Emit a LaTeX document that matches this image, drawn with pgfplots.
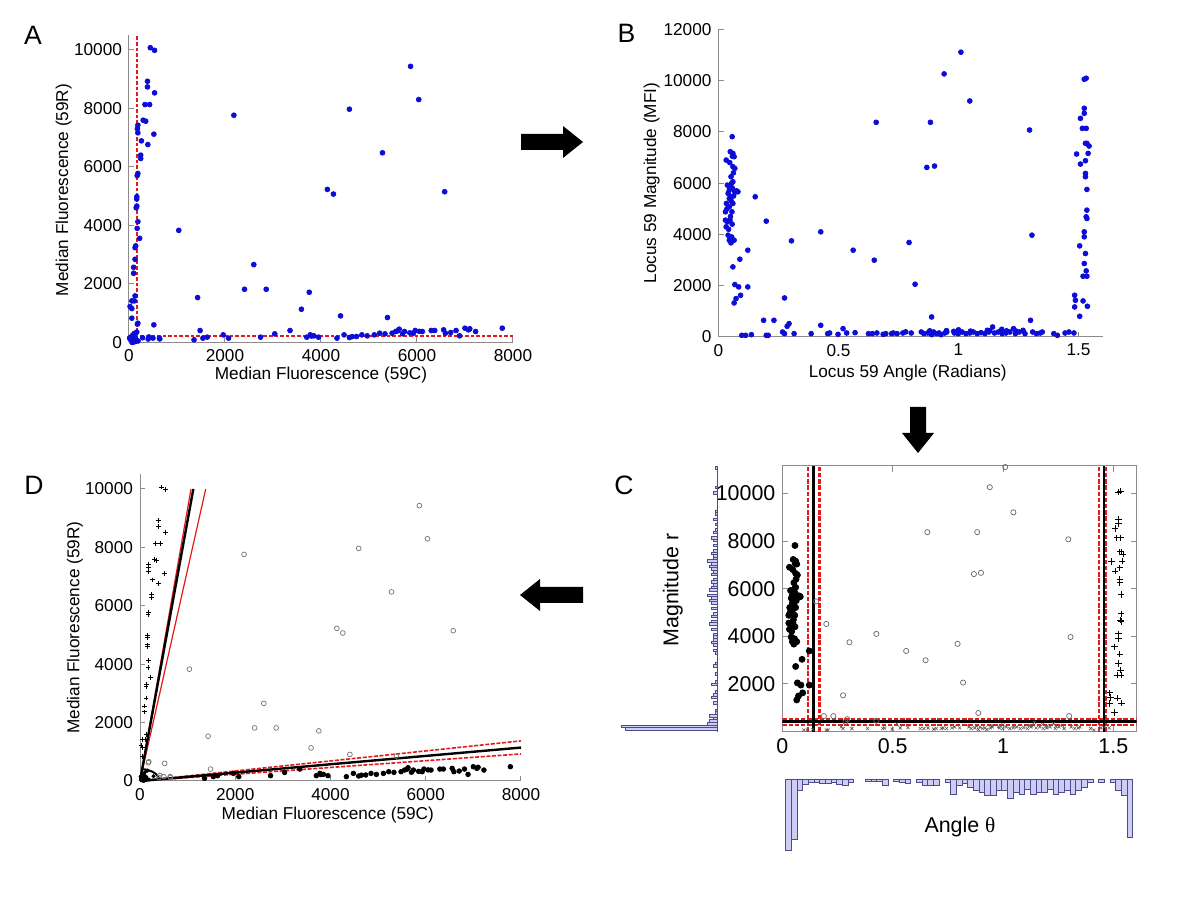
\documentclass[border=0pt]{standalone}
\usepackage{fontspec}
\setmainfont{Liberation Sans}
\newfontfamily\serifgreek{Liberation Serif}
\usepackage{pgfplots}
\usepackage{pgfplotstable}
\pgfplotsset{compat=1.18}
\definecolor{mblue}{rgb}{0.05,0.05,0.85}
\definecolor{mred}{rgb}{0.9,0.1,0.1}
\definecolor{histfill}{rgb}{0.80,0.80,0.96}
\definecolor{histedge}{rgb}{0.30,0.30,0.55}
\definecolor{axgray}{gray}{0.55}

% ---------------- cartesian data (59C, 59R) ----------------
\pgfplotstableread{
C R
444 10065
533 9977
385 8920
385 8727
533 8523
333 8125
430 8125
296 7590
348 7557
185 7420
185 7160
518 7114
259 6885
393 6760
244 6397
244 6284
185 5770
163 4977
163 4659
185 4125
170 3898
222 3557
126 3239
126 2841
96 2568
96 2364
126 1591
59 1420
111 1420
22 1227
59 1159
59 830
175 7300
170 5700
150 4600
160 4900
140 3300
}\cartV
\pgfplotstableread{
C R
1037 3829
1430 1534
1481 409
2185 7760
2407 1818
2600 2659
2859 1818
3592 1136
3755 1716
4133 5227
4259 5068
4407 909
4592 7966
5281 6477
5385 852
5866 9430
6037 8295
6577 5148
185 659
518 602
640 122
634 149
499 151
415 188
174 627
400 118
}\cartM
\pgfplotstableread{
C R
1355 91
1540 148
1630 182
1963 261
2074 148
2741 182
3037 295
3355 409
3703 182
3777 261
3851 227
3948 182
4333 148
4481 261
4592 170
4740 205
4851 261
4963 227
5111 261
5222 318
5333 295
5481 318
5555 375
5629 454
5740 375
5925 318
5962 409
6111 375
6296 409
6370 409
6555 432
6592 318
6703 341
6814 409
6888 227
6999 489
7073 432
7222 375
7777 489
3800 220
5600 400
5700 300
6050 380
7100 470
4650 200
5850 330
}\cartH
\pgfplotstableread{
C R
65 6
90 12
64 13
188 51
125 35
124 40
120 49
117 57
91 50
283 162
134 80
142 91
105 76
123 96
80 66
98 86
96 88
112 108
108 112
129 146
100 119
122 152
95 124
91 127
86 130
103 166
78 135
61 115
58 116
162 356
77 179
57 145
109 307
61 185
77 248
31 126
43 190
22 128
20 155
14 155
}\cartL

% ---------------- polar data (angle, magnitude) ----------------
\pgfplotstableread{
t r
0.032 6900
0.037 5924
0.033 5208
0.029 4883
0.029 4557
0.032 4297
0.040 3971
0.045 3776
0.052 3672
0.057 7812
0.049 7226
0.060 7161
0.065 7031
0.060 6640
0.068 6575
0.052 6250
0.060 6054
0.045 5729
0.068 5664
0.081 5664
0.052 5468
0.060 5208
0.045 5078
0.056 4883
0.048 4557
0.037 4492
0.065 3776
0.060 2734
0.068 2044
0.084 1953
0.089 3034
0.122 3385
0.122 1953
0.092 1627
0.073 1497
0.065 1328
0.045 5400
0.050 5900
0.040 5600
0.055 6000
0.058 5800
0.050 4700
0.042 4200
0.055 3900
0.062 6400
0.047 6800
0.058 7050
0.035 5000
0.053 5300
0.063 5500
0.057 4400
0.070 5650
0.075 5700
}\polH
\pgfplotstableread{
t r
1.524 10052
1.532 10091
1.524 8919
1.524 8723
1.508 8528
1.516 8137
1.532 8137
1.529 7552
1.535 7552
1.544 7447
1.492 7135
1.540 7161
1.508 6744
1.529 6874
1.529 6380
1.529 6250
1.535 5755
1.535 4948
1.532 4687
1.535 4622
1.524 4101
1.524 3906
1.505 3554
1.529 3255
1.524 2864
1.532 2578
1.519 2370
1.535 2370
1.484 1627
1.487 1432
1.519 1406
1.484 1172
1.537 1198
1.505 807
}\polV
\pgfplotstableread{
t r
0.153 5468
0.199 4518
0.304 3750
0.275 1523
0.426 4101
0.561 3385
0.649 2995
0.657 8372
0.794 3685
0.819 2057
0.883 8372
0.868 6614
0.900 6666
0.940 10260
1.010 11106
1.047 9205
0.888 781
1.296 8072
1.306 3971
1.300 651
0.188 651
0.231 651
0.286 417
0.294 521
0.426 456
}\polM
\pgfplotstableread{
t r
0.097 65
0.113 65
0.137 91
0.199 65
0.207 65
0.267 195
0.275 130
0.315 130
0.386 130
0.455 130
0.463 156
0.498 104
0.519 326
0.534 156
0.569 169
0.625 130
0.641 130
0.660 156
0.686 104
0.697 130
0.721 130
0.728 156
0.744 130
0.768 156
0.803 156
0.845 195
0.856 130
0.872 156
0.888 91
0.896 195
0.908 130
0.919 156
0.927 91
0.943 156
0.951 195
0.983 156
0.999 130
1.015 195
1.031 130
1.047 156
1.062 195
1.078 130
1.094 169
1.110 130
1.126 195
1.142 391
1.150 156
1.166 195
1.182 130
1.198 156
1.214 195
1.229 326
1.237 130
1.253 195
1.269 260
1.277 130
1.309 195
1.325 130
1.341 156
1.349 195
1.397 130
1.412 65
1.444 156
1.460 195
1.481 156
0.950 250
1.000 280
1.050 230
1.120 260
1.180 300
1.200 240
0.880 240
0.780 200
1.240 230
0.980 220
1.130 240
}\polL

% ---------------- histograms ----------------
\pgfplotstableread{
cnt r
46 120
48 230
5 340
4 450
2 560
4 670
1 780
1 890
2 1220
3 1440
2 1550
1 1660
3 1990
1 2100
1 2430
2 2760
1 2870
1 3310
2 3420
2 3640
3 3750
2 3860
2 3970
2 4080
3 4300
4 4520
3 4630
3 4850
2 4960
3 5180
3 5400
4 5510
3 5620
5 5730
4 5950
3 6060
2 6170
3 6280
2 6390
3 6610
2 6720
3 6830
4 6940
3 7050
5 7160
2 7270
2 7380
3 7490
2 7600
2 7820
2 8040
3 8150
2 8370
1 8480
1 8700
2 8920
1 9140
1 9250
2 10030
1 10250
1 11070
}\histR
\pgfplotstableread{
t d
0.0265 71.7
0.0523 60
0.0781 11.7
0.1039 5
0.1297 3.3
0.1555 3.3
0.1813 4.3
0.2071 4.3
0.2329 3.3
0.2587 5
0.2845 6.7
0.3103 3.3
0.3877 2.3
0.4135 2.3
0.4393 2.3
0.4651 6.7
0.5167 2.3
0.5425 3.3
0.5683 4.3
0.6199 3.3
0.6457 6.7
0.6715 6.7
0.6973 6.7
0.7489 3.3
0.7747 15
0.8005 6.7
0.8263 4.3
0.8521 8.3
0.8779 11.7
0.9037 13.3
0.9295 16.7
0.9553 16.7
0.9811 11.7
1.0069 11.7
1.0327 19.3
1.0585 13.3
1.0843 15
1.1101 10
1.1359 15
1.1617 13.3
1.1875 13.3
1.2133 10
1.2391 15
1.2649 13.3
1.2907 11.7
1.3165 15
1.3423 11.7
1.3681 8.3
1.3939 3.3
1.4455 3.3
1.4971 3.3
1.5229 11.7
1.5487 16.7
1.5745 58.3
}\histT

\pgfplotsset{
  panel/.style={scale only axis, anchor=south west, clip=false,
    axis x line*=bottom, axis y line*=left,
    axis line style={axgray, line width=0.5pt, -},
    every outer x axis line/.append style={-},
    every outer y axis line/.append style={-},
    every inner x axis line/.append style={-},
    every inner y axis line/.append style={-},
    every tick/.style={axgray, line width=0.5pt},
    tick align=inside, major tick length=2.5pt,
    /pgf/number format/assume math mode=true,
    /pgf/number format/1000 sep={},
    scaled ticks=false,
    tick label style={font=\fontsize{8.6}{10}\selectfont, text=black},
    label style={font=\fontsize{8.6}{10}\selectfont},
  },
  bluedots/.style={only marks, mark=*, mark size=1.2pt, mark options={draw=mblue, fill=mblue}},
  redline/.style={mred, line width=0.9pt, dash pattern=on 1.8pt off 1pt},
  credline/.style={mred, line width=1.05pt, dash pattern=on 2.2pt off 0.9pt},
}

\begin{document}
\begin{tikzpicture}[x=1pt,y=1pt]
\useasboundingbox (0,0) rectangle (600,450);

% ---------------- Panel A ----------------
\begin{axis}[panel, at={(64.5pt,278.75pt)}, width=192pt, height=153.75pt,
  xmin=0, xmax=8000, ymin=0, ymax=10500,
  xtick={0,2000,4000,6000,8000}, ytick={0,2000,4000,6000,8000,10000},
  xlabel={Median Fluorescence (59C)}, ylabel={Median Fluorescence (59R)},
  xlabel style={at={(axis description cs:0.5,-0.106)}, anchor=center},
  ylabel style={at={(axis description cs:-0.170,0.496)}, anchor=center}]
\addplot[bluedots] table[x=C,y=R] {\cartL};
\addplot[bluedots] table[x=C,y=R] {\cartH};
\addplot[bluedots] table[x=C,y=R] {\cartM};
\addplot[bluedots] table[x=C,y=R] {\cartV};
\addplot[redline] coordinates {(175,0) (175,10500)};
\addplot[redline] coordinates {(0,225) (8000,225)};
\end{axis}

% ---------------- Panel B ----------------
\begin{axis}[panel, at={(359.25pt,281.5pt)}, width=192pt, height=153.85pt,
  xmin=0, xmax=1.6, ymin=0, ymax=12000,
  xtick={0,0.5,1,1.5}, ytick={0,2000,4000,6000,8000,10000,12000},
  xlabel={Locus 59 Angle (Radians)}, ylabel={Locus 59 Magnitude (MFI)},
  xlabel style={at={(axis description cs:0.493,-0.117)}, anchor=center},
  ylabel style={at={(axis description cs:-0.174,0.5)}, anchor=center}]
\addplot[bluedots] table[x=t,y=r] {\polL};
\addplot[bluedots] table[x=t,y=r] {\polH};
\addplot[bluedots] table[x=t,y=r] {\polM};
\addplot[bluedots] table[x=t,y=r] {\polV};
\end{axis}

% ---------------- Panel C ----------------
\begin{axis}[scale only axis, anchor=south west, at={(391.2pt,84.2pt)}, width=177.05pt, height=132.8pt,
  xmin=0, xmax=1.605, ymin=0, ymax=11150,
  xtick={0,0.5,1,1.5}, ytick={2000,4000,6000,8000,10000},
  axis line style={axgray, line width=0.5pt},
  every tick/.style={axgray, line width=0.5pt},
  tick align=inside, major tick length=3pt,
  /pgf/number format/assume math mode=true, /pgf/number format/1000 sep={}, scaled ticks=false,
  tick label style={font=\fontsize{10.7}{12}\selectfont, text=black},
  label style={font=\fontsize{10.7}{12}\selectfont},
  xlabel={Angle {\serifgreek θ}}, ylabel={Magnitude r},
  xlabel style={at={(axis description cs:0.5016,-0.358)}, anchor=center},
  ylabel style={at={(axis description cs:-0.3095,0.533)}, anchor=center}]
\addplot[only marks, mark=x, mark size=1.1pt, mark options={draw=black!65, line width=0.3pt}] table[x=t,y=r] {\polL};
\addplot[only marks, mark=*, mark size=1.5pt, mark options={draw=black, fill=black}] table[x=t,y=r] {\polH};
\addplot[only marks, mark=o, mark size=1.3pt, mark options={draw=black!60, line width=0.35pt}] table[x=t,y=r] {\polM};
\addplot[only marks, mark=+, mark size=1.6pt, mark options={draw=black, line width=0.45pt}] table[x=t,y=r] {\polV};
\addplot[credline] coordinates {(0.115,0) (0.115,11150)};
\addplot[credline] coordinates {(0.168,0) (0.168,11150)};
\addplot[credline] coordinates {(1.434,0) (1.434,11150)};
\addplot[credline] coordinates {(1.467,0) (1.467,11150)};
\addplot[credline] coordinates {(0,520) (1.605,520)};
\addplot[credline] coordinates {(0,280) (1.605,280)};
\addplot[black, line width=1.35pt] coordinates {(0.142,0) (0.142,11150)};
\addplot[black, line width=1.35pt] coordinates {(1.458,0) (1.458,11150)};
\addplot[black, line width=1.35pt] coordinates {(0,410) (1.605,410)};
\end{axis}

% left marginal histogram of r
\begin{axis}[scale only axis, anchor=south west, at={(308.65pt,84.2pt)}, width=50pt, height=132.8pt,
  xmin=0, xmax=50, x dir=reverse, ymin=0, ymax=11150, hide axis, clip=false]
\addplot[xbar, bar width=110, bar shift=0pt, fill=histfill, draw=histedge, line width=0.25pt] table[x=cnt,y=r] {\histR};
\addplot[histedge, line width=0.4pt] coordinates {(0,0) (0,11150)};
\end{axis}

% bottom marginal histogram of angle
\begin{axis}[scale only axis, anchor=south west, at={(391.2pt,18pt)}, width=177.05pt, height=42.5pt,
  xmin=0, xmax=1.605, ymin=0, ymax=85, y dir=reverse, hide axis, clip=false]
\addplot[ybar, bar width=0.0258, bar shift=0pt, fill=histfill, draw=histedge, line width=0.25pt] table[x=t,y=d] {\histT};
\end{axis}

% ---------------- Panel D ----------------
\begin{axis}[panel, at={(70pt,59.5pt)}, width=190.5pt, height=153.3pt,
  xmin=0, xmax=8000, ymin=0, ymax=10500,
  xtick={0,2000,4000,6000,8000}, ytick={0,2000,4000,6000,8000,10000},
  xlabel={Median Fluorescence (59C)}, ylabel={Median Fluorescence (59R)},
  xlabel style={at={(axis description cs:0.493,-0.111)}, anchor=center},
  ylabel style={at={(axis description cs:-0.171,0.5)}, anchor=center}]
\addplot[only marks, mark=*, mark size=0.8pt, mark options={draw=black, fill=black}] table[x=C,y=R] {\cartL};
\addplot[only marks, mark=*, mark size=1.15pt, mark options={draw=black, fill=black}] table[x=C,y=R] {\cartH};
\addplot[only marks, mark=o, mark size=1.2pt, mark options={draw=black!55, line width=0.35pt}] table[x=C,y=R] {\cartM};
\addplot[only marks, mark=+, mark size=1.2pt, mark options={draw=black, line width=0.5pt}] table[x=C,y=R] {\cartV};
\addplot[black, line width=1pt, smooth] coordinates {(406,57) (392,121) (360,197) (314,264) (255,321) (186,365) (110,395) (45,407)};
\addplot[mred, line width=0.6pt] coordinates {(0,0) (1071,10000)};
\addplot[mred, line width=0.6pt] coordinates {(0,0) (1380,10000)};
\addplot[black, line width=1.2pt] coordinates {(0,0) (1120,10000)};
\addplot[mred, line width=0.8pt, dash pattern=on 2pt off 0.8pt] coordinates {(0,0) (8000,1374)};
\addplot[mred, line width=0.8pt, dash pattern=on 2pt off 0.8pt] coordinates {(0,0) (8000,927)};
\addplot[black, line width=1.2pt] coordinates {(0,0) (8000,1145)};
\end{axis}

% ---------------- arrows and panel letters ----------------
\fill[black] (260.5,383) -- (281.5,383) -- (281.5,387) -- (291.5,379) -- (281.5,371) -- (281.5,375) -- (260.5,375) -- cycle;
\fill[black] (455,246.5) -- (463,246.5) -- (463,233.5) -- (467,233.5) -- (459,223.5) -- (451,233.5) -- (455,233.5) -- cycle;
\fill[black] (260,152.5) -- (270,160.5) -- (270,156.5) -- (291.5,156.5) -- (291.5,148.5) -- (270,148.5) -- (270,144.5) -- cycle;

\node[font=\fontsize{13.3}{15}\selectfont, inner sep=0pt] at (16.5,432.5) {A};
\node[font=\fontsize{13.3}{15}\selectfont, inner sep=0pt] at (313.25,433.5) {B};
\node[font=\fontsize{13.3}{15}\selectfont, inner sep=0pt] at (312,207.5) {C};
\node[font=\fontsize{13.3}{15}\selectfont, inner sep=0pt] at (17,207.25) {D};
\end{tikzpicture}
\end{document}
